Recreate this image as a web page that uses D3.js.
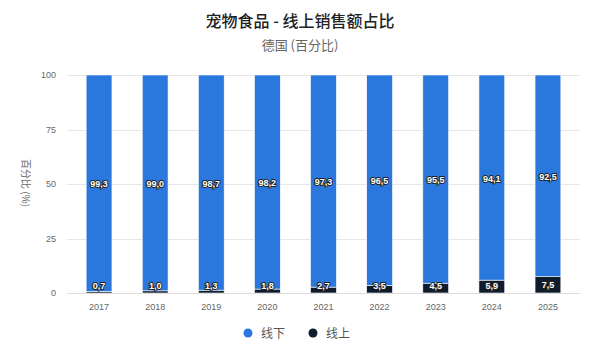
<style>
body {margin:0; background:#fff;}
text {font-family:'Noto Sans CJK SC','Noto Sans',sans-serif;}
.grid line {stroke:#e6e6e6; shape-rendering:crispEdges;}
.grid path {display:none;}
.lbl {font-family:'Liberation Sans',Arial,sans-serif; font-size:9px; font-weight:bold; fill:#fff; stroke:#222; stroke-width:2px; paint-order:stroke; stroke-linejoin:round;}
</style>
<script src='https://d3js.org/d3.v7.min.js'></script>
<svg id='svg001' width='600' height='353'></svg>
<script>
var years=['2017','2018','2019','2020','2021','2022','2023','2024','2025'];
var offline=[99.3,99.0,98.7,98.2,97.3,96.5,95.5,94.1,92.5];
var online=[0.7,1.0,1.3,1.8,2.7,3.5,4.5,5.9,7.5];
var seriesNames=['线下','线上'];
var yTicks=[0,25,50,75,100];
var colors=['#2a78de','#0e1c2e'];

var svg=d3.select('#svg001');
var xScale=d3.scaleBand().domain(years).range([71,576]).paddingInner(0.54).paddingOuter(0.27);
var yScale=d3.scaleLinear().domain([0,100]).range([293,75]);

svg.append('text').attr('x',300).attr('y',27).attr('text-anchor','middle')
   .style('font-size','16px').style('font-weight','500').style('fill','#222')
   .text('宠物食品 - 线上销售额占比');
svg.append('text').attr('x',300).attr('y',50).attr('text-anchor','middle')
   .style('font-size','13px').style('fill','#666').text('德国 (百分比)');

// grid
svg.append('g').attr('class','grid').attr('transform','translate(67,0)')
   .call(d3.axisLeft(yScale).tickValues(yTicks).tickSize(-513).tickFormat(''));
svg.selectAll('.ytl').data(yTicks).enter().append('text')
   .attr('x',56).attr('y',function(d){return yScale(d)+3;}).attr('text-anchor','end')
   .style('font-size','9px').style('fill','#666').style('font-family','Liberation Sans,Arial,sans-serif')
   .text(function(d){return d;});
svg.append('text').attr('transform','translate(25,183) rotate(90)').attr('text-anchor','middle')
   .attr('dy','0.35em').style('font-size','10px').style('fill','#666').text('百分比 (%)');

var data=years.map(function(y,i){return {year:y,off:offline[i],on:online[i]};});
var stack=d3.stack().keys(['on','off'])(data);
var g=svg.append('g');
stack.forEach(function(s,k){
  var col=k==0?colors[1]:colors[0];
  g.selectAll('.b'+k).data(s).enter().append('rect')
   .attr('x',function(d){return xScale(d.data.year);})
   .attr('width',xScale.bandwidth())
   .attr('y',function(d){return yScale(d[1]);})
   .attr('height',function(d){return Math.max(0,yScale(d[0])-yScale(d[1]));})
   .attr('fill',col).attr('stroke','#fff').attr('stroke-width',0.6);
});
// labels
g.selectAll('.loff').data(data).enter().append('text').attr('class','lbl')
 .attr('x',function(d){return xScale(d.year)+xScale.bandwidth()/2;})
 .attr('y',function(d){return (yScale(d.on)+yScale(100))/2+4;})
 .attr('text-anchor','middle').text(function(d){return d3.format('.1f')(d.off).replace('.',',');});
g.selectAll('.lon').data(data).enter().append('text').attr('class','lbl')
 .attr('x',function(d){return xScale(d.year)+xScale.bandwidth()/2;})
 .attr('y',function(d){return Math.min((yScale(d.on)+yScale(0))/2,286)+3;})
 .attr('text-anchor','middle').text(function(d){return d3.format('.1f')(d.on).replace('.',',');});

// x axis
svg.append('line').attr('x1',67).attr('x2',580).attr('y1',293.5).attr('y2',293.5).attr('stroke','#ddd');
svg.selectAll('.xtl').data(years).enter().append('text')
   .attr('x',function(d){return xScale(d)+xScale.bandwidth()/2;}).attr('y',310)
   .attr('text-anchor','middle').style('font-size','9px').style('fill','#666')
   .style('font-family','Liberation Sans,Arial,sans-serif').text(function(d){return d;});

// legend
var lx=[248,313];
seriesNames.forEach(function(n,i){
  svg.append('circle').attr('cx',lx[i]).attr('cy',333).attr('r',4.5).attr('fill',colors[i]);
  svg.append('text').attr('x',lx[i]+13).attr('y',337.5).style('font-size','12px').style('fill','#555').text(n);
});
</script>
